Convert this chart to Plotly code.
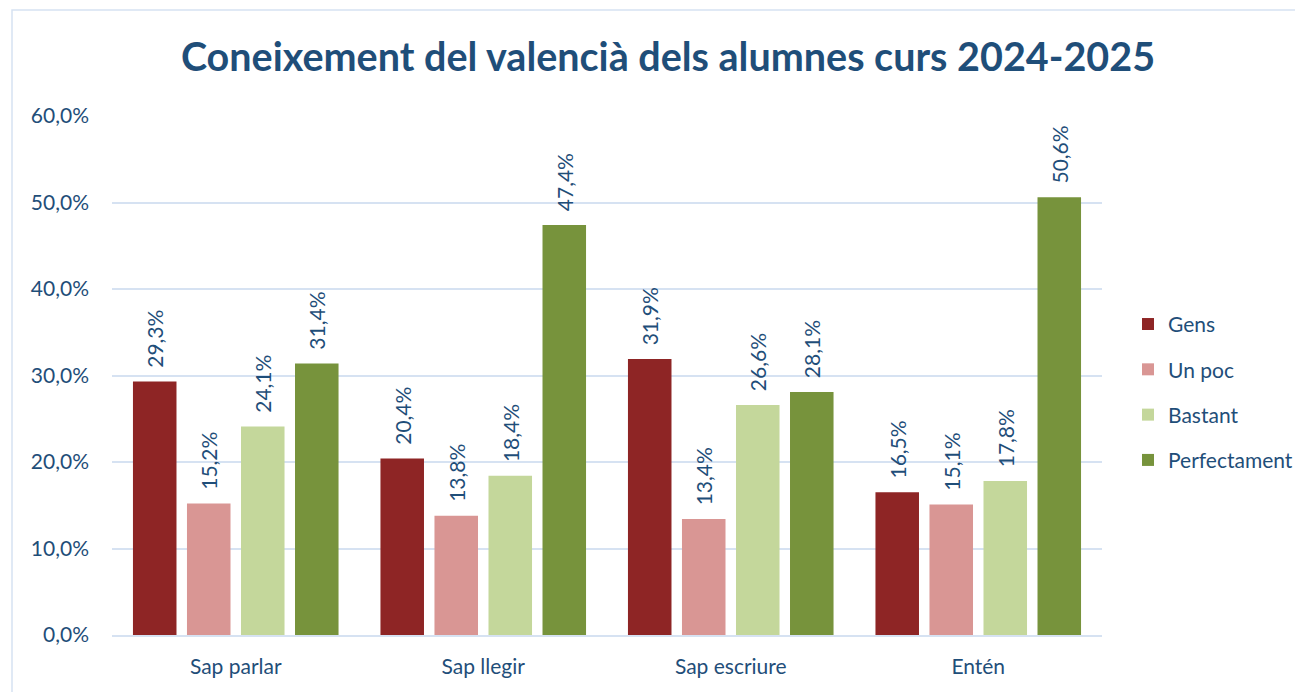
import plotly.graph_objects as go

# data
categories = ["Sap parlar", "Sap llegir", "Sap escriure", "Entén"]
gens = [29.3, 20.4, 31.9, 16.5]
un_poc = [15.2, 13.8, 13.4, 15.1]
bastant = [24.1, 18.4, 26.6, 17.8]
perfectament = [31.4, 47.4, 28.1, 50.6]

series = [
    ("Gens", gens, "#8E2525"),
    ("Un poc", un_poc, "#D99694"),
    ("Bastant", bastant, "#C4D79B"),
    ("Perfectament", perfectament, "#77933C"),
]

BLUE = "#1F4E79"
GRID = "#D6E2F2"
FONT = "Lato"

fig = go.Figure()
for name, vals, col in series:
    fig.add_trace(go.Bar(
        x=categories, y=vals, name=name, legendgroup=name,
        marker=dict(color=col, line=dict(width=0)),
        texttemplate="\u00a0\u00a0%{y:.1f}%", textposition="outside", textangle=-90,
        textfont=dict(family=FONT, size=21, color=BLUE),
        constraintext="none", cliponaxis=False,
    ))

# page body has an 8px offset, so the figure is laid out from (8, 8)
fig.update_layout(
    width=1295, height=684,
    margin=dict(l=104, r=201, t=108, b=57, autoexpand=False),
    paper_bgcolor="white", plot_bgcolor="white",
    separators=",.",
    barmode="group", bargap=0.127, bargroupgap=0.194,
    title=dict(text="<b>Coneixement del valencià dels alumnes curs 2024-2025</b>",
               x=660 / 1295, xanchor="center", y=1 - 49 / 684, yanchor="middle",
               font=dict(family=FONT, size=39.5, color=BLUE)),
    font=dict(family=FONT, size=21, color=BLUE),
    legend=dict(xref="container", x=1120 / 1295, xanchor="left",
                y=0.638, yanchor="top",
                font=dict(family=FONT, size=21, color=BLUE),
                tracegroupgap=15, itemwidth=30),
    showlegend=True,
)
fig.update_yaxes(range=[0, 60], dtick=10, ticksuffix="%", tickformat=".1f",
                 showgrid=True, gridcolor=GRID, gridwidth=1.5,
                 zeroline=False, showline=False, ticks="", ticklabelstandoff=22,
                 tickfont=dict(family=FONT, size=21, color=BLUE))
fig.update_xaxes(showline=True, linecolor=GRID, linewidth=1.5, ticks="",
                 ticklabelstandoff=12,
                 tickfont=dict(family=FONT, size=21, color=BLUE))

# outer chart border
fig.add_shape(type="rect", xref="paper", yref="paper",
              x0=(4 - 104) / 990, x1=1.25, y0=-0.2, y1=(627 - 2) / 519,
              line=dict(color=GRID, width=1.5), layer="below")

fig.write_html("out.html")
